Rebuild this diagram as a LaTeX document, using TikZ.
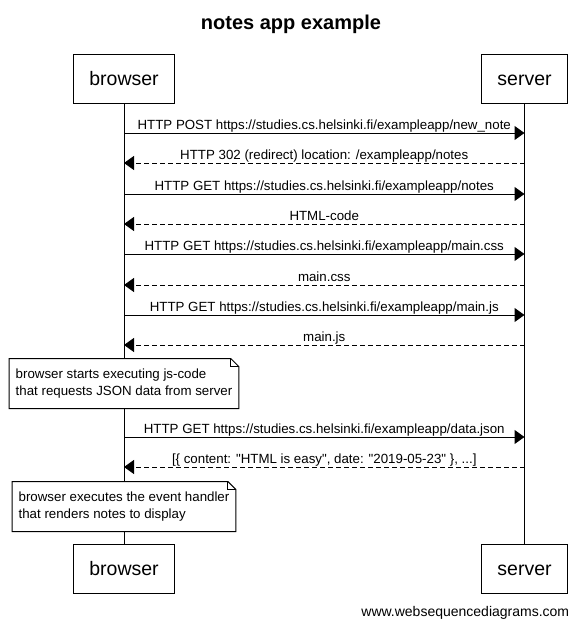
\documentclass[tikz,border=0pt]{standalone}
\usepackage{fontspec}
\setmainfont{Liberation Sans}
\usetikzlibrary{arrows.meta, positioning, calc}

\begin{document}
\begin{tikzpicture}[x=1pt, y=-1pt, line width=1pt, font=\fontsize{13.3}{17}\selectfont]
    \tikzstyle{actor} = [rectangle, draw, fill=white, inner xsep=16pt, minimum height=49pt,
      text height=15pt, text depth=2pt, font=\fontsize{19.5}{22}\selectfont]
    \tikzstyle{call} = [-{Triangle[length=10pt, width=14pt]}]
    \tikzstyle{reply} = [call, dash pattern=on 5pt off 3pt]
    \tikzstyle{msglabel} = [midway, anchor=base, yshift=4pt, inner sep=0pt]
    \tikzstyle{notetext} = [align=left, fill=white, inner xsep=6pt, minimum height=49pt]

    \useasboundingbox (0,0) rectangle (582,627);

    \node (title) at (291,29) [anchor=base, font=\fontsize{20}{24}\selectfont\bfseries] {notes app example};

    \node (browser)    at (124,78.5)    [actor] {browser};
    \node (server)     at (524.5,78.5)  [actor] {server};
    \node (browserEnd) at (124,568.5)   [actor] {browser};
    \node (serverEnd)  at (524.5,568.5) [actor] {server};

    \draw (browser) -- (browserEnd);
    \draw (server) -- (serverEnd);

    % points on the lifelines, one pair per message
    \foreach \n/\y in {1/133, 2/163, 3/194, 4/224, 5/254, 6/285, 7/315, 8/345, 9/437, 10/467} {
        \coordinate (b\n) at (browser |- 0,\y);
        \coordinate (s\n) at (server |- 0,\y);
    }

    \draw [call]  (b1) -- (s1) node [msglabel] {HTTP POST https://studies.cs.helsinki.fi/exampleapp/new\_note};
    \draw [reply] (s2) -- (b2) node [msglabel] {HTTP 302 (redirect) location: /exampleapp/notes};
    \draw [call]  (b3) -- (s3) node [msglabel] {HTTP GET https://studies.cs.helsinki.fi/exampleapp/notes};
    \draw [reply] (s4) -- (b4) node [msglabel] {HTML-code};
    \draw [call]  (b5) -- (s5) node [msglabel] {HTTP GET https://studies.cs.helsinki.fi/exampleapp/main.css};
    \draw [reply] (s6) -- (b6) node [msglabel] {main.css};
    \draw [call]  (b7) -- (s7) node [msglabel] {HTTP GET https://studies.cs.helsinki.fi/exampleapp/main.js};
    \draw [reply] (s8) -- (b8) node [msglabel] {main.js};
    \draw [call]  (b9) -- (s9) node [msglabel] {HTTP GET https://studies.cs.helsinki.fi/exampleapp/data.json};
    \draw [reply] (s10) -- (b10) node [msglabel]
      {[\{ content: \textquotedbl HTML is easy\textquotedbl, date: \textquotedbl 2019-05-23\textquotedbl\ \}, ...]};

    % notes with a folded corner
    \node (startjs) at (124,383.5) [notetext] {browser starts executing js-code\\that requests JSON data from server};
    \draw (startjs.north west) -- ($(startjs.north east)+(-8,0)$) -- ($(startjs.north east)+(0,8)$)
      -- (startjs.south east) -- (startjs.south west) -- cycle;
    \draw ($(startjs.north east)+(-8,0)$) |- ($(startjs.north east)+(0,8)$);

    \node (render) at (124,506.5) [notetext] {browser executes the event handler\\that renders notes to display};
    \draw (render.north west) -- ($(render.north east)+(-8,0)$) -- ($(render.north east)+(0,8)$)
      -- (render.south east) -- (render.south west) -- cycle;
    \draw ($(render.north east)+(-8,0)$) |- ($(render.north east)+(0,8)$);

    \node (footer) at (573,616) [anchor=base east, font=\fontsize{14}{16}\selectfont] {www.websequencediagrams.com};
\end{tikzpicture}
\end{document}
